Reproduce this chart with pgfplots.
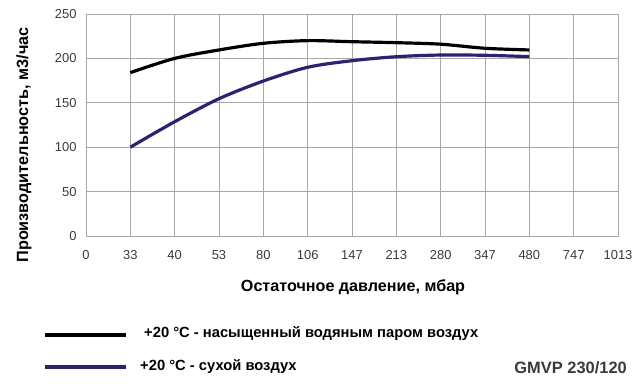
\documentclass[border=0pt]{standalone}
\usepackage{pgfplots}
\pgfplotsset{compat=1.18}
\usepackage{fontspec}
\setmainfont{Liberation Sans}
\definecolor{navyline}{HTML}{2C2370}
\definecolor{gridgray}{HTML}{A8A8A8}
\definecolor{ticktext}{HTML}{3A3A3A}
\begin{document}
\begin{tikzpicture}
\useasboundingbox (0,0) rectangle (638bp,388bp);
\begin{axis}[
  at={(86bp,152bp)}, anchor=south west,
  scale only axis, width=532bp, height=222bp,
  xmin=0, xmax=12, ymin=0, ymax=250,
  xtick={0,...,12},
  xticklabels={0,33,40,53,80,106,147,213,280,347,480,747,1013},
  ytick={0,50,...,250},
  grid=major,
  major grid style={gridgray, line width=0.8pt},
  axis line style={gridgray, line width=0.8pt},
  tick style={draw=none},
  /pgf/number format/assume math mode=true,
  ticklabel style={font=\fontsize{13}{15}\selectfont, text=ticktext},
  xticklabel style={yshift=-11bp},
  yticklabel style={xshift=-6bp},
  clip=false,
]
\addplot[black, line width=3.2pt, smooth, tension=0.5] coordinates {
 (1,184) (2,200) (3,209.5) (4,217) (5,220) (6,218.8) (7,217.7) (8,216) (9,211.4) (10,209.5)};
\addplot[navyline, line width=3.2pt, smooth, tension=0.5] coordinates {
 (1,100) (2,128.7) (3,154.6) (4,174.5) (5,190) (6,197.4) (7,201.9) (8,203.8) (9,203.5) (10,202)};
\end{axis}
\node[rotate=90, font=\bfseries\fontsize{16.3}{18}\selectfont] at (24bp,243bp) {Производительность, м3/час};
\node[font=\bfseries\fontsize{16.2}{18}\selectfont] at (353bp,101bp) {Остаточное давление, мбар};
\draw[black, line width=4.2bp] (45bp,53bp) -- (126bp,53bp);
\draw[navyline, line width=4.2bp] (45bp,21bp) -- (126bp,21bp);
\node[anchor=west, font=\bfseries\fontsize{14.8}{16}\selectfont, inner sep=0pt] at (144bp,54bp) {+20 °C - насыщенный водяным паром воздух};
\node[anchor=west, font=\bfseries\fontsize{14.8}{16}\selectfont, inner sep=0pt] at (140bp,21bp) {+20 °C - сухой воздух};
\node[anchor=east, font=\bfseries\fontsize{16.5}{18}\selectfont, text=ticktext, inner sep=0pt] at (627bp,20bp) {GMVP 230/120};
\end{tikzpicture}
\end{document}
